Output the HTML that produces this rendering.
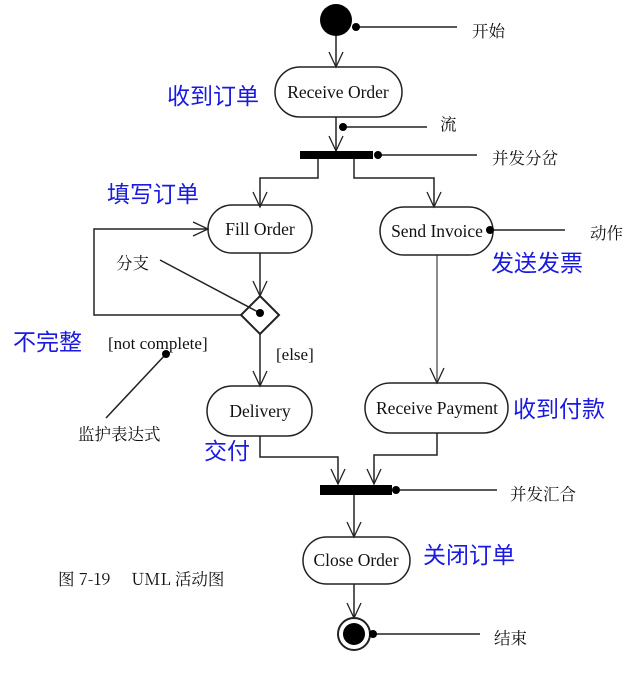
<!DOCTYPE html>
<html><head><meta charset="utf-8"><style>
body{margin:0;background:#fff}
text{font-family:"Liberation Serif","Noto Serif CJK SC",serif;fill:#111}
.b{font-family:"Liberation Sans","Noto Sans CJK SC",sans-serif;fill:#1a1ae0;font-size:23px}
.c{font-family:"Noto Serif CJK SC","Noto Sans CJK SC",serif;font-size:16.5px}
</style></head><body>
<svg width="642" height="677" viewBox="0 0 642 677" xmlns="http://www.w3.org/2000/svg">
<defs><marker id="a" markerWidth="20" markerHeight="20" refX="16" refY="8" orient="auto" markerUnits="userSpaceOnUse"><path d="M1,1 L16,8 L1,15" fill="none" stroke="#222" stroke-width="1.3"/></marker></defs>
<g stroke="#222" stroke-width="1.5" fill="none">
<line x1="336" y1="36" x2="336" y2="67" marker-end="url(#a)"/>
<line x1="336" y1="117" x2="336" y2="151" marker-end="url(#a)"/>
<polyline points="318,159 318,178 260,178 260,207" marker-end="url(#a)"/>
<polyline points="354,159 354,178 434,178 434,207" marker-end="url(#a)"/>
<line x1="260" y1="253" x2="260" y2="296" marker-end="url(#a)"/>
<polyline points="241,315 94,315 94,229 208,229" marker-end="url(#a)"/>
<line x1="260" y1="334" x2="260" y2="386" marker-end="url(#a)"/>
<line x1="437" y1="255" x2="437" y2="383" stroke="#666" marker-end="url(#a)"/>
<polyline points="260,436 260,457 338,457 338,484" marker-end="url(#a)"/>
<polyline points="437,433 437,455 374,455 374,484" marker-end="url(#a)"/>
<line x1="354" y1="495" x2="354" y2="537" marker-end="url(#a)"/>
<line x1="354" y1="584" x2="354" y2="618" marker-end="url(#a)"/>
<line x1="356" y1="27" x2="457" y2="27"/>
<line x1="343" y1="127" x2="427" y2="127"/>
<line x1="378" y1="155" x2="477" y2="155"/>
<line x1="490" y1="230" x2="565" y2="230"/>
<line x1="160" y1="260" x2="260" y2="313"/>
<line x1="166" y1="354" x2="106" y2="418"/>
<line x1="396" y1="490" x2="497" y2="490"/>
<line x1="373" y1="634" x2="480" y2="634"/>
<rect x="275" y="67" width="127" height="50" rx="25"/>
<rect x="208" y="205" width="104" height="48" rx="24"/>
<rect x="380" y="207" width="113" height="48" rx="24"/>
<rect x="207" y="386" width="105" height="50" rx="25"/>
<rect x="365" y="383" width="143" height="50" rx="25"/>
<rect x="303" y="537" width="107" height="47" rx="23.5"/>
<polygon points="260,296 279,315 260,334 241,315" stroke-width="2"/>
<circle cx="354" cy="634" r="16" stroke-width="2"/>
</g>
<g fill="#000">
<circle cx="336" cy="20" r="16"/>
<circle cx="356" cy="27" r="4"/>
<circle cx="343" cy="127" r="4"/>
<rect x="300" y="151" width="73" height="8"/>
<circle cx="378" cy="155" r="4"/>
<circle cx="490" cy="230" r="4"/>
<circle cx="260" cy="313" r="4"/>
<circle cx="166" cy="354" r="4"/>
<rect x="320" y="485" width="72" height="10"/>
<circle cx="396" cy="490" r="4"/>
<circle cx="354" cy="634" r="11"/>
<circle cx="373" cy="634" r="4"/>
</g>
<g font-size="17.5" text-anchor="middle">
<text x="338" y="98">Receive Order</text>
<text x="260" y="235">Fill Order</text>
<text x="437" y="237">Send Invoice</text>
<text x="260" y="417">Delivery</text>
<text x="437" y="414">Receive Payment</text>
<text x="356" y="566">Close Order</text>
</g>
<text x="108" y="349" font-size="17">[not complete]</text>
<text x="276" y="360" font-size="17">[else]</text>
<text class="c" x="472" y="37">开始</text>
<text class="c" x="440" y="130">流</text>
<text class="c" x="492" y="164">并发分岔</text>
<text class="c" x="590" y="239">动作</text>
<text class="c" x="116" y="269">分支</text>
<text class="c" x="78" y="440">监护表达式</text>
<text class="c" x="510" y="500">并发汇合</text>
<text class="c" x="494" y="644">结束</text>
<text class="c" x="58" y="585" font-size="17.5">图 7-19　 UML 活动图</text>
<text class="b" x="167" y="104">收到订单</text>
<text class="b" x="107" y="202">填写订单</text>
<text class="b" x="491" y="271">发送发票</text>
<text class="b" x="13" y="350">不完整</text>
<text class="b" x="204" y="459">交付</text>
<text class="b" x="513" y="417">收到付款</text>
<text class="b" x="423" y="563">关闭订单</text>
</svg>
</body></html>
